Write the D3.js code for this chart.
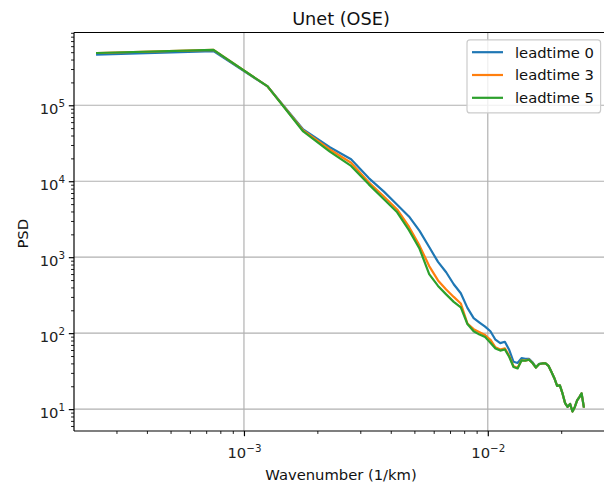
<!DOCTYPE html>
<html>
<head>
<meta charset="utf-8">
<script src="https://cdn.jsdelivr.net/npm/d3@7"></script>
<style>
  html, body { margin: 0; padding: 0; background: #fff; }
  svg { display: block; font-family: "DejaVu Sans", sans-serif; }
</style>
</head>
<body>
<svg id="chart" width="604" height="485"></svg>
<script>
// Wavenumber bins (1/km)
const wavenumber = [
  0.00025, 0.00075, 0.00125, 0.00175, 0.00225, 0.00275, 0.00325, 0.00375, 0.00425, 0.00475,
  0.00525, 0.00575, 0.00625, 0.00675, 0.00725, 0.00775, 0.00825, 0.00875, 0.00925, 0.00975,
  0.01025, 0.01075, 0.01125, 0.01175, 0.01225, 0.01275, 0.01325, 0.01375, 0.01425, 0.01475,
  0.01525, 0.01575, 0.01625, 0.01675, 0.01725, 0.01775, 0.01825, 0.01875, 0.01925, 0.01975,
  0.02025, 0.02075, 0.02125, 0.02175, 0.02225, 0.02275, 0.02325, 0.02375, 0.02425, 0.02475
];

// Power spectral density per lead time
const psdLead0 = [
  4.66e5, 5.15e5, 1.77e5, 4.8e4, 2.8e4, 1.95e4, 1.1e4, 7.3e3, 4.9e3, 3.44e3,
  2.22e3, 1.36e3, 867, 633, 440, 335, 215, 158, 138, 122,
  106, 82, 74, 77, 60, 42, 40.5, 47, 46, 46,
  41.5, 35.5, 39.5, 40, 40, 37, 30.8, 25.5, 20.2, 20.5,
  16.1, 12.0, 10.7, 11.7, 9.3, 10.7, 13.0, 14.4, 16.1, 10.8
];
const psdLead3 = [
  4.88e5, 5.35e5, 1.77e5, 4.66e4, 2.62e4, 1.75e4, 9.7e3, 6.3e3, 4.25e3, 2.52e3,
  1.42e3, 764, 495, 376, 300, 246, 134, 113, 103, 94.6,
  82, 65, 61, 63, 50, 36.5, 35, 44, 43.5, 44.8,
  40.5, 35.3, 39.3, 39.9, 39.9, 37, 30.8, 25.5, 20.2, 20.5,
  16.1, 12.0, 10.7, 11.7, 9.3, 10.7, 13.0, 14.4, 16.1, 10.8
];
const psdLead5 = [
  4.88e5, 5.35e5, 1.77e5, 4.52e4, 2.45e4, 1.59e4, 9.1e3, 5.8e3, 3.9e3, 2.27e3,
  1.29e3, 600, 419, 324, 258, 218, 132, 106, 95.7, 89,
  74.7, 62.8, 59, 61, 48.5, 35.9, 34.3, 43.7, 43.3, 44.6,
  40.5, 35.3, 39.3, 39.9, 39.9, 37, 30.8, 25.5, 20.2, 20.5,
  16.1, 12.0, 10.7, 11.7, 9.3, 10.7, 13.0, 14.4, 16.1, 10.8
];

const seriesNames = ["leadtime 0", "leadtime 3", "leadtime 5"];
const seriesColors = ["#1f77b4", "#ff7f0e", "#2ca02c"];

// Major tick exponents and minor multipliers
const xMajorExp = [-3, -2];
const yMajorExp = [1, 2, 3, 4, 5];
const minorMult = [2, 3, 4, 5, 6, 7, 8, 9];

const chartTitle = "Unet (OSE)";
const xLabel = "Wavenumber (1/km)";
const yLabel = "PSD";

// ---- layout ----
const plot = { left: 74, right: 608, top: 32.5, bottom: 431 };
const fontSize = 14.75;
const supSize = 10.3;
const lw = 1.18;

const svg = d3.select("#chart");

const x = d3.scaleLog()
  .domain([Math.pow(10, -3.697), Math.pow(10, -1.507)])
  .range([plot.left, plot.right]);
const y = d3.scaleLog()
  .domain([Math.pow(10, 0.712), Math.pow(10, 5.958)])
  .range([plot.bottom, plot.top]);

const xMajor = xMajorExp.map(e => Math.pow(10, e));
const yMajor = yMajorExp.map(e => Math.pow(10, e));
function minorTicks(scale, fromExp, toExp) {
  const [a, b] = scale.domain();
  const out = [];
  for (let e = fromExp; e <= toExp; e++) {
    minorMult.forEach(m => {
      const v = m * Math.pow(10, e);
      if (v >= a && v <= b) out.push(v);
    });
  }
  return out;
}
const xMinor = minorTicks(x, -4, -2);
const yMinor = minorTicks(y, 0, 5);

// ---- grid ----
const grid = svg.append("g").attr("stroke", "#b0b0b0").attr("stroke-width", lw);
grid.selectAll("line.gx").data(xMajor).join("line")
  .attr("x1", d => x(d)).attr("x2", d => x(d))
  .attr("y1", plot.top).attr("y2", plot.bottom);
grid.selectAll("line.gy").data(yMajor).join("line")
  .attr("x1", plot.left).attr("x2", plot.right)
  .attr("y1", d => y(d)).attr("y2", d => y(d));

// ---- lines ----
const line = d3.line()
  .x(d => x(d[0]))
  .y(d => y(d[1]));
const allSeries = [psdLead0, psdLead3, psdLead5];
const clipId = "plotclip";
svg.append("clipPath").attr("id", clipId).append("rect")
  .attr("x", plot.left).attr("y", plot.top)
  .attr("width", plot.right - plot.left).attr("height", plot.bottom - plot.top);
const lines = svg.append("g").attr("clip-path", `url(#${clipId})`);
allSeries.forEach((vals, i) => {
  lines.append("path")
    .datum(wavenumber.map((k, j) => [k, vals[j]]))
    .attr("d", line)
    .attr("fill", "none")
    .attr("stroke", seriesColors[i])
    .attr("stroke-width", 2.2)
    .attr("stroke-linejoin", "round")
    .attr("stroke-linecap", "square");
});

// ---- axes ----
function styleAxis(g) {
  g.select(".domain").remove();
  g.selectAll(".tick line").attr("stroke", "#000");
}
const xAxisMajor = svg.append("g")
  .attr("transform", `translate(0,${plot.bottom})`)
  .call(d3.axisBottom(x).tickValues(xMajor).tickSize(5.2).tickFormat(""));
styleAxis(xAxisMajor);
xAxisMajor.selectAll(".tick line").attr("stroke-width", lw);
svg.append("g")
  .attr("transform", `translate(0,${plot.bottom})`)
  .call(d3.axisBottom(x).tickValues(xMinor).tickSize(2.95).tickFormat(""))
  .call(styleAxis)
  .selectAll(".tick line").attr("stroke-width", 0.89);

const yAxisMajor = svg.append("g")
  .attr("transform", `translate(${plot.left},0)`)
  .call(d3.axisLeft(y).tickValues(yMajor).tickSize(5.2).tickFormat(""));
styleAxis(yAxisMajor);
yAxisMajor.selectAll(".tick line").attr("stroke-width", lw);
svg.append("g")
  .attr("transform", `translate(${plot.left},0)`)
  .call(d3.axisLeft(y).tickValues(yMinor).tickSize(2.95).tickFormat(""))
  .call(styleAxis)
  .selectAll(".tick line").attr("stroke-width", 0.89);

// power-of-ten tick labels with superscript exponents
function powLabel(textSel, exp) {
  textSel.text(null);
  textSel.append("tspan").attr("font-size", fontSize).text("10");
  textSel.append("tspan").attr("font-size", supSize).attr("dy", -6.5)
    .text(exp < 0 ? "\u2212" + Math.abs(exp) : String(exp));
}
xAxisMajor.selectAll(".tick").each(function (d, i) {
  const t = d3.select(this).select("text")
    .attr("y", 27).attr("dy", null)
    .attr("text-anchor", "middle")
    .attr("fill", "#222")
    .attr("font-family", "DejaVu Sans");
  powLabel(t, xMajorExp[i]);
});
yAxisMajor.selectAll(".tick").each(function (d, i) {
  const t = d3.select(this).select("text")
    .attr("x", -9).attr("y", 8).attr("dy", null)
    .attr("text-anchor", "end")
    .attr("fill", "#222")
    .attr("font-family", "DejaVu Sans");
  powLabel(t, yMajorExp[i]);
});

// ---- spines ----
const spines = svg.append("g").attr("stroke", "#000").attr("stroke-width", lw).attr("fill", "none");
spines.append("line").attr("x1", plot.left).attr("x2", plot.left).attr("y1", plot.top).attr("y2", plot.bottom);
spines.append("line").attr("x1", plot.left).attr("x2", plot.right).attr("y1", plot.bottom).attr("y2", plot.bottom);
spines.append("line").attr("x1", plot.left).attr("x2", plot.right).attr("y1", plot.top).attr("y2", plot.top);
spines.append("line").attr("x1", plot.right).attr("x2", plot.right).attr("y1", plot.top).attr("y2", plot.bottom);

// ---- titles ----
svg.append("text")
  .attr("x", (plot.left + plot.right) / 2).attr("y", 24.5)
  .attr("text-anchor", "middle")
  .attr("font-size", 17.7).attr("fill", "#111")
  .text(chartTitle);
svg.append("text")
  .attr("x", (plot.left + plot.right) / 2).attr("y", 479.5)
  .attr("text-anchor", "middle")
  .attr("font-size", fontSize).attr("fill", "#111")
  .text(xLabel);
svg.append("text")
  .attr("transform", `translate(27.5,${(plot.top + plot.bottom) / 2 + 2}) rotate(-90)`)
  .attr("text-anchor", "middle")
  .attr("font-size", fontSize).attr("fill", "#111")
  .text(yLabel);

// ---- legend ----
const lg = svg.append("g");
const lgBox = { x: plot.right - 7.4 - 133.6, y: plot.top + 7.4, w: 133.6, h: 73 };
lg.append("rect")
  .attr("x", lgBox.x).attr("y", lgBox.y)
  .attr("width", lgBox.w).attr("height", lgBox.h)
  .attr("rx", 3).attr("ry", 3)
  .attr("fill", "#fff").attr("fill-opacity", 0.8)
  .attr("stroke", "#cccccc").attr("stroke-width", 1.2);
seriesNames.forEach((name, i) => {
  const cy = lgBox.y + 12.3 + i * 22.8;
  lg.append("line")
    .attr("x1", lgBox.x + 5).attr("x2", lgBox.x + 36)
    .attr("y1", cy).attr("y2", cy)
    .attr("stroke", seriesColors[i]).attr("stroke-width", 2.2);
  lg.append("text")
    .attr("x", lgBox.x + 48).attr("y", cy + 5.3)
    .attr("font-size", fontSize).attr("fill", "#111")
    .text(name);
});
</script>
</body>
</html>
